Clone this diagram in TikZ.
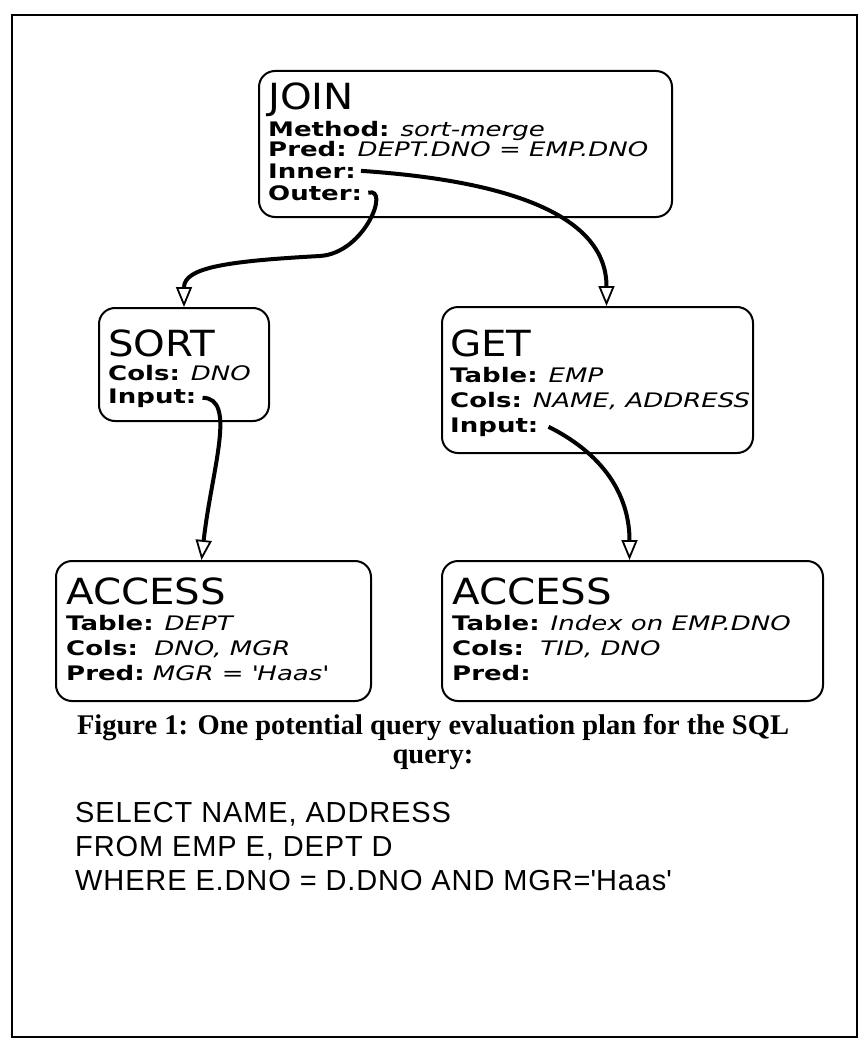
\documentclass[tikz,border=0pt]{standalone}
\usepackage{fontspec}
\newfontfamily\titlefont[FakeStretch=1.12]{DejaVu Sans}
\newfontfamily\boxfont[FakeStretch=1.3]{DejaVu Sans}
\newfontfamily\capfont{Liberation Serif}
\newfontfamily\sqlfont[LetterSpace=3]{Liberation Sans}
\usetikzlibrary{arrows.meta,positioning,calc}
\newcommand{\fieldname}[1]{\textbf{#1}}
\newcommand{\fieldval}[1]{\textit{#1}}

\begin{document}
\begin{tikzpicture}[x=1pt,y=-1pt,
    opbox/.style={draw,line width=2pt,rounded corners=16pt,anchor=north west,inner sep=0pt},
    optitle/.style={anchor=base west,inner sep=0pt,font=\titlefont\fontsize{36}{36}\selectfont},
    field/.style={anchor=base west,inner sep=0pt,font=\boxfont\fontsize{20}{20}\selectfont},
    flow/.style={line width=4pt,-{Triangle[open,length=20pt,width=16pt,line width=1.8pt]}},
    sqlline/.style={anchor=base west,inner sep=0pt,font=\sqlfont\fontsize{29}{29}\selectfont}]
    \useasboundingbox (0,0) rectangle (866,1054);
    \draw[line width=2.5pt] (12,15) rectangle (857,1037);
    % operator boxes
    \node[opbox,minimum width=413pt,minimum height=146pt] (join) at (258,70) {};
    \node[opbox,minimum width=170pt,minimum height=113pt] (sort) at (98,307) {};
    \node[opbox,minimum width=311pt,minimum height=146pt] (get) at (441,306) {};
    \node[opbox,minimum width=315pt,minimum height=140pt] (accessL) at (55,560) {};
    \node[opbox,minimum width=381pt,minimum height=140pt] (accessR) at (441,560) {};
    % JOIN
    \node[optitle] (joinTitle) at (268,110) {JOIN};
    \node[field] (joinMethod) at (268,136) {\fieldname{Method:} \fieldval{sort-merge}};
    \node[field] (joinPred) at (268,157) {\fieldname{Pred:} \fieldval{DEPT.DNO = EMP.DNO}};
    \node[field] (joinInner) at (268,178) {\fieldname{Inner:}};
    \node[field] (joinOuter) at (268,200) {\fieldname{Outer:}};
    % SORT
    \node[optitle] (sortTitle) at (108,356) {SORT};
    \node[field] (sortCols) at (108,380) {\fieldname{Cols:} \fieldval{DNO}};
    \node[field] (sortInput) at (108,403) {\fieldname{Input:}};
    % GET
    \node[optitle] (getTitle) at (450,356) {GET};
    \node[field] (getTable) at (450,382) {\fieldname{Table:} \fieldval{EMP}};
    \node[field] (getCols) at (450,407) {\fieldname{Cols:} \fieldval{NAME, ADDRESS}};
    \node[field] (getInput) at (450,432) {\fieldname{Input:}};
    % ACCESS (DEPT)
    \node[optitle] (accLTitle) at (66,604) {ACCESS};
    \node[field] (accLTable) at (66,630) {\fieldname{Table:} \fieldval{DEPT}};
    \node[field] (accLCols) at (66,655) {\fieldname{Cols:}\ \ \fieldval{DNO, MGR}};
    \node[field] (accLPred) at (66,680) {\fieldname{Pred:}\ \fieldval{MGR = \textquotesingle Haas\textquotesingle}};
    % ACCESS (index)
    \node[optitle] (accRTitle) at (452,604) {ACCESS};
    \node[field] (accRTable) at (452,630) {\fieldname{Table:} \fieldval{Index on EMP.DNO}};
    \node[field] (accRCols) at (452,655) {\fieldname{Cols:}\ \ \fieldval{TID, DNO}};
    \node[field] (accRPred) at (452,680) {\fieldname{Pred:}};
    % connectors
    \coordinate (outerBend) at (320,256);
    \draw[flow] ([xshift=5pt]joinInner.east) .. controls +(150,10) and +(0,-90) .. ([xshift=9pt]get.north);
    \draw[flow] ([xshift=6pt]joinOuter.east) .. controls +(22,-6) and +(45,-3) .. (outerBend)
        .. controls +(-90,5) and +(0,-40) .. (sort.north);
    \draw[flow] ([xshift=6pt]sortInput.east) .. controls +(35,0) and +(10,-90) .. ([xshift=-12pt]accessL.north);
    \draw[flow] ([xshift=10pt]getInput.east) .. controls +(60,30) and +(0,-60) .. ([xshift=-3pt]accessR.north);
    % caption and query
    \node[inner sep=0pt,align=center,font=\capfont\bfseries\fontsize{28.5}{29}\selectfont] (caption) at (433,742)
        {Figure 1: One potential query evaluation plan for the SQL\\query:};
    \node[sqlline] (sqlSelect) at (75,822) {SELECT NAME, ADDRESS};
    \node[sqlline] (sqlFrom) at (75,856) {FROM EMP E, DEPT D};
    \node[sqlline] (sqlWhere) at (75,890) {WHERE E.DNO = D.DNO AND MGR=\textquotesingle Haas\textquotesingle};
\end{tikzpicture}
\end{document}
